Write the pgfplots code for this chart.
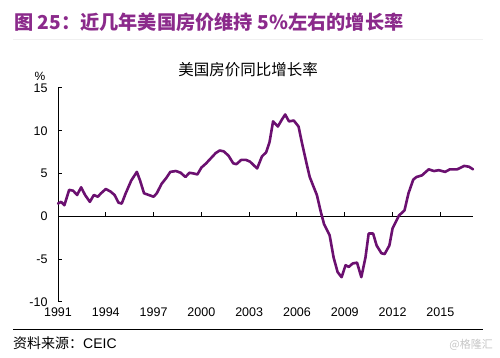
\documentclass[border=0pt]{standalone}
\usepackage{pgfplots}
\pgfplotsset{compat=1.18}
\usepackage{fontspec}
\setmainfont{Liberation Sans}
\newfontfamily\cjk{Noto Sans CJK SC}
\definecolor{headcol}{HTML}{8B2A8B}
\definecolor{linecol}{HTML}{6B1070}
\begin{document}
\begin{tikzpicture}
\path[use as bounding box] (0,0) rectangle (500pt,358pt);
\node[anchor=west, text=headcol, font=\cjk\bfseries\fontsize{19.2}{21}\selectfont, inner sep=0] at (14pt,336pt) {图 25：近几年美国房价维持 5\%左右的增长率};
\draw[gray!12, line width=0.6pt] (13pt,319pt) -- (483pt,319pt);
\node[font=\cjk\fontsize{15.5}{17}\selectfont, inner sep=0] at (248pt,288pt) {美国房价同比增长率};
\node[font=\fontsize{12}{14}\selectfont, inner sep=0] at (40pt,282pt) {\%};
\begin{axis}[
  scale only axis, width=415pt, height=214pt,
  at={(58pt,56pt)}, anchor=south west,
  xmin=1991, xmax=2017.05, ymin=-10, ymax=15,
  axis y line*=left, axis x line*=middle,
  hide obscured x ticks=false,
  xtick={1991,1994,1997,2000,2003,2006,2009,2012,2015},
  ytick={-10,-5,0,5,10,15},
  tick align=inside,
  major tick length=4pt,
  tick style={black, line width=1pt},
  axis line style={black, line width=0.9pt},
  ticklabel style={font=\fontsize{12.5}{14}\selectfont},
  /pgf/number format/assume math mode=true,
  /pgf/number format/1000 sep={},
  xticklabel style={yshift=-88pt},
  yticklabel style={xshift=-7pt},
  clip=false,
]
\pgfplotsinvokeforeach{1994,1997,2000,2003,2006,2009,2012,2015}{
  \draw[black, line width=1pt] (axis cs:#1,0) -- ++(0pt,4pt);
}
\pgfplotsinvokeforeach{-10,-5,0,5,10,15}{
  \draw[black, line width=1pt] (axis cs:1991,#1) -- ++(4pt,0pt);
}
\addplot[linecol, line width=2.6pt, line join=round, line cap=round] coordinates {
(1991.0,1.5)(1991.2,1.7)(1991.4,1.3)(1991.7,3.1)(1991.95,3.0)(1992.2,2.5)(1992.45,3.4)(1992.7,2.5)
(1993.0,1.7)(1993.25,2.5)(1993.5,2.3)(1993.7,2.7)(1994.0,3.2)(1994.3,2.9)(1994.55,2.5)(1994.8,1.6)
(1995.0,1.5)(1995.25,2.7)(1995.6,4.2)(1995.95,5.2)(1996.15,4.2)(1996.4,2.7)(1996.7,2.5)(1997.0,2.3)
(1997.2,2.7)(1997.5,3.8)(1997.8,4.5)(1998.05,5.2)(1998.4,5.3)(1998.7,5.1)(1999.0,4.6)(1999.25,5.1)
(1999.55,5.0)(1999.75,4.9)(2000.0,5.7)(2000.3,6.2)(2000.6,6.8)(2000.9,7.4)(2001.15,7.7)(2001.4,7.6)
(2001.7,7.1)(2002.0,6.2)(2002.2,6.1)(2002.5,6.6)(2002.8,6.6)(2003.05,6.4)(2003.5,5.6)(2003.8,7.0)
(2004.07,7.5)(2004.28,8.7)(2004.5,11.1)(2004.8,10.5)(2005.05,11.3)(2005.26,11.9)(2005.5,11.1)
(2005.8,11.2)(2006.1,10.5)(2006.3,8.7)(2006.6,6.2)(2006.8,4.6)(2007.25,2.5)(2007.5,0.5)(2007.7,-0.9)
(2008.05,-2.2)(2008.3,-4.8)(2008.55,-6.5)(2008.8,-7.1)(2009.05,-5.7)(2009.25,-5.9)(2009.5,-5.5)
(2009.77,-5.4)(2010.04,-7.1)(2010.3,-4.8)(2010.5,-2.0)(2010.78,-2.0)(2011.0,-3.4)(2011.3,-4.3)
(2011.5,-4.4)(2011.8,-3.4)(2012.0,-1.4)(2012.4,0.1)(2012.75,0.7)(2013.0,2.7)(2013.3,4.3)(2013.5,4.6)
(2013.85,4.8)(2014.27,5.5)(2014.6,5.3)(2014.9,5.4)(2015.3,5.2)(2015.6,5.5)(2016.06,5.5)(2016.5,5.9)
(2016.8,5.8)(2017.05,5.5)
};
\end{axis}
\draw[black, line width=0.8pt] (13pt,29pt) -- (483pt,29pt);
\node[anchor=west, font=\cjk\fontsize{14}{16}\selectfont, inner sep=0] at (13pt,15pt) {资料来源：\fontspec{Liberation Sans}CEIC};
\node[anchor=east, text=gray!45, font=\cjk\fontsize{11}{13}\selectfont, inner sep=0] at (493pt,13pt) {@格隆汇};
\end{tikzpicture}
\end{document}
